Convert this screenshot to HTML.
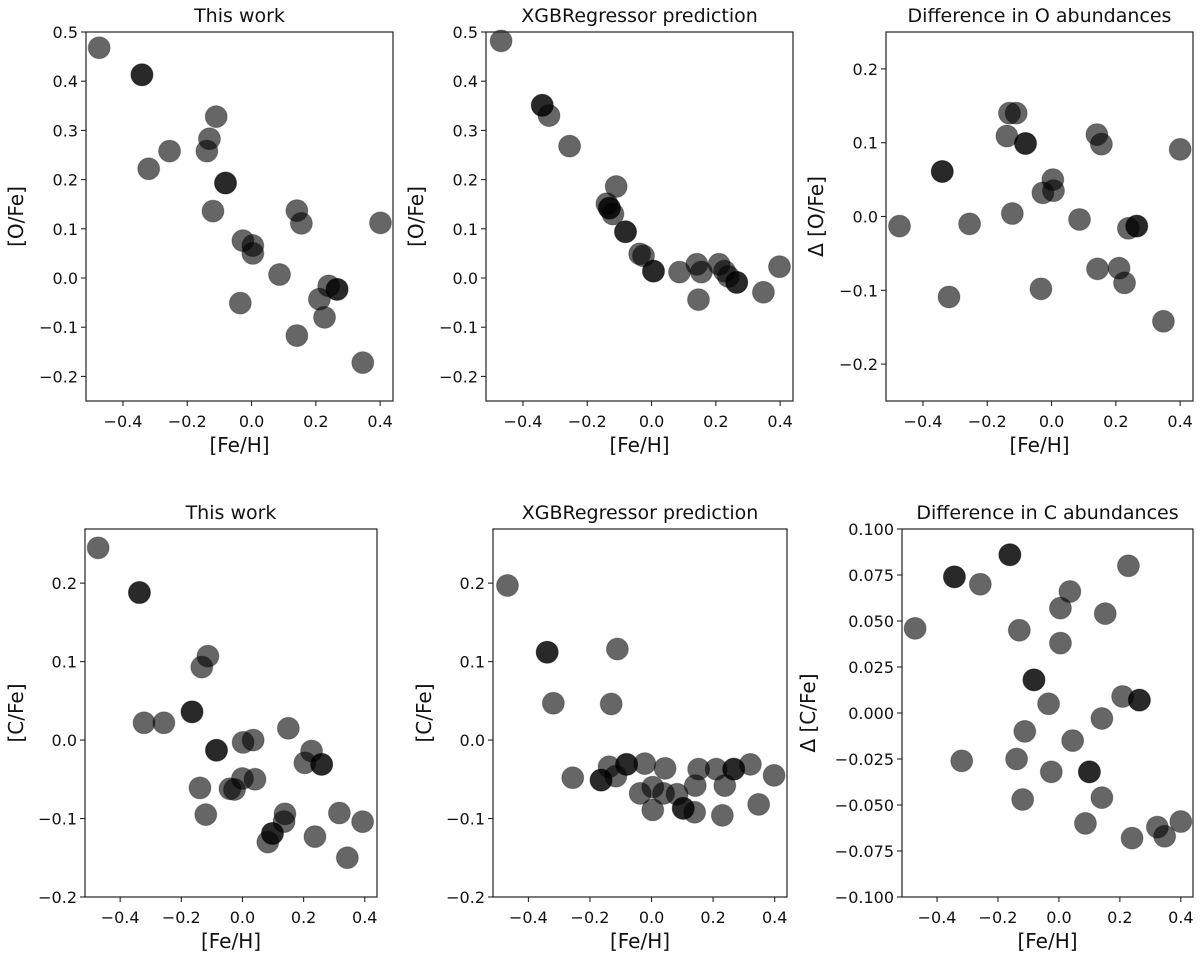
<!DOCTYPE html>
<html><head><meta charset="utf-8"><style>
html,body{margin:0;padding:0;background:#fff;}
svg{display:block;font-family:"DejaVu Sans","Liberation Sans",sans-serif;}
</style></head><body>
<svg id="fig" width="1200" height="959" viewBox="0 0 1200 959" xmlns="http://www.w3.org/2000/svg"></svg>
<script>
// Panel 1: This work, O
const p1x=[-0.474,-0.341,-0.341,-0.110,-0.131,-0.139,-0.255,-0.320,-0.081,-0.081,-0.120,0.141,0.155,0.401,-0.027,0.004,0.004,0.087,-0.035,0.240,0.266,0.266,0.211,0.227,0.141,0.346];
const p1y=[0.468,0.413,0.413,0.328,0.283,0.258,0.258,0.222,0.193,0.193,0.136,0.137,0.111,0.112,0.076,0.066,0.050,0.007,-0.051,-0.016,-0.023,-0.023,-0.043,-0.080,-0.117,-0.172];
// Panel 2: XGB prediction, O
const p2x=[-0.468,-0.340,-0.340,-0.319,-0.255,-0.110,-0.139,-0.131,-0.131,-0.120,-0.081,-0.081,-0.037,-0.025,0.006,0.006,0.087,0.141,0.155,0.146,0.210,0.227,0.239,0.265,0.265,0.348,0.398];
const p2y=[0.482,0.351,0.351,0.330,0.268,0.186,0.151,0.142,0.142,0.130,0.094,0.094,0.049,0.045,0.014,0.014,0.012,0.028,0.012,-0.044,0.028,0.014,0.003,-0.009,-0.009,-0.029,0.023];
// Panel 3: difference O
const p3x=[-0.473,-0.340,-0.340,-0.319,-0.255,-0.139,-0.131,-0.110,-0.081,-0.081,-0.122,0.004,0.006,-0.027,-0.033,0.087,0.141,0.155,0.143,0.210,0.227,0.239,0.265,0.265,0.348,0.400];
const p3y=[-0.013,0.061,0.061,-0.109,-0.010,0.109,0.140,0.140,0.099,0.099,0.004,0.050,0.035,0.032,-0.098,-0.004,0.111,0.098,-0.071,-0.070,-0.090,-0.016,-0.013,-0.013,-0.142,0.091];
// Panel 4: This work, C
const p4x=[-0.472,-0.337,-0.337,-0.113,-0.133,-0.165,-0.165,-0.322,-0.257,-0.085,-0.085,0.002,0.035,0.150,0.226,0.204,0.259,0.259,0.000,0.041,-0.139,-0.041,-0.026,-0.120,0.139,0.136,0.098,0.098,0.083,0.237,0.317,0.393,0.343];
const p4y=[0.245,0.188,0.188,0.107,0.093,0.036,0.036,0.022,0.022,-0.013,-0.013,-0.003,0.000,0.015,-0.014,-0.029,-0.031,-0.031,-0.049,-0.050,-0.061,-0.062,-0.063,-0.095,-0.094,-0.104,-0.119,-0.119,-0.130,-0.123,-0.093,-0.104,-0.150];
// Panel 5: XGB prediction, C
const p5x=[-0.468,-0.339,-0.339,-0.111,-0.319,-0.131,-0.256,-0.164,-0.164,-0.138,-0.116,-0.081,-0.081,-0.022,0.044,-0.037,0.004,0.039,0.083,0.004,0.103,0.103,0.140,0.142,0.153,0.210,0.238,0.267,0.267,0.230,0.321,0.348,0.398];
const p5y=[0.197,0.112,0.112,0.116,0.047,0.046,-0.048,-0.051,-0.051,-0.034,-0.046,-0.031,-0.031,-0.030,-0.036,-0.068,-0.060,-0.068,-0.069,-0.089,-0.087,-0.087,-0.092,-0.058,-0.037,-0.037,-0.058,-0.037,-0.037,-0.096,-0.031,-0.082,-0.045];
// Panel 6: difference C
const p6x=[-0.472,-0.343,-0.343,-0.258,-0.161,-0.161,0.228,0.036,0.005,0.152,-0.130,0.005,-0.082,-0.082,0.209,0.264,0.264,-0.034,0.141,-0.112,0.045,-0.319,-0.139,-0.025,0.100,0.100,-0.119,0.141,0.087,0.240,0.323,0.347,0.400];
const p6y=[0.046,0.074,0.074,0.070,0.086,0.086,0.080,0.066,0.057,0.054,0.045,0.038,0.018,0.018,0.009,0.007,0.007,0.005,-0.003,-0.010,-0.015,-0.026,-0.025,-0.032,-0.032,-0.032,-0.047,-0.046,-0.060,-0.068,-0.062,-0.067,-0.059];

const xTicks=[-0.4,-0.2,0.0,0.2,0.4];
const yTicksO=[-0.2,-0.1,0.0,0.1,0.2,0.3,0.4,0.5];
const yTicksDO=[-0.2,-0.1,0.0,0.1,0.2];
const yTicksC=[-0.2,-0.1,0.0,0.1,0.2];
const yTicksDC=[-0.1,-0.075,-0.05,-0.025,0,0.025,0.05,0.075,0.1];

const NS='http://www.w3.org/2000/svg';
const svg=document.getElementById('fig');
function mk(tag,attrs,parent){const e=document.createElementNS(NS,tag);for(const k in attrs)e.setAttribute(k,attrs[k]);parent.appendChild(e);return e;}
function fmt(v,d){const s=Math.abs(v).toFixed(d);return (v<-1e-9?'\u2212':'')+s;}

const panels=[
 {id:'o-this-work',title:'This work',box:[86,32,393,401],yl:[-0.25,0.5],yt:yTicksO,d:1,lab:'[O/Fe]',labx:16,xs:p1x,ys:p1y},
 {id:'o-xgb-prediction',title:'XGBRegressor prediction',box:[486,32,793,401],yl:[-0.25,0.5],yt:yTicksO,d:1,lab:'[O/Fe]',labx:416,xs:p2x,ys:p2y},
 {id:'o-difference',title:'Difference in O abundances',box:[886,32,1193,401],yl:[-0.25,0.25],yt:yTicksDO,d:1,lab:'\u0394 [O/Fe]',labx:816,xs:p3x,ys:p3y},
 {id:'c-this-work',title:'This work',box:[85,529,377,897],yl:[-0.2,0.269],yt:yTicksC,d:1,lab:'[C/Fe]',labx:16,xs:p4x,ys:p4y},
 {id:'c-xgb-prediction',title:'XGBRegressor prediction',box:[493,529,787,897],yl:[-0.2,0.269],yt:yTicksC,d:1,lab:'[C/Fe]',labx:424,xs:p5x,ys:p5y},
 {id:'c-difference',title:'Difference in C abundances',box:[902,529,1193,897],yl:[-0.1,0.1],yt:yTicksDC,d:3,lab:'\u0394 [C/Fe]',labx:808,xs:p6x,ys:p6y}
];
const xl=[-0.515,0.44];

panels.forEach(p=>{
 const [L,T,R,B]=p.box;
 const g=mk('g',{},svg);
 
 
 const X=v=>L+(v-xl[0])/(xl[1]-xl[0])*(R-L);
 const Y=v=>B-(v-p.yl[0])/(p.yl[1]-p.yl[0])*(B-T);
 const t=mk('text',{x:(L+R)/2,y:T-10,'text-anchor':'middle','font-size':19,fill:'#111'},g);
 t.textContent=p.title;
 
 
 const pg=mk('g',{},g);
 
 
 for(let i=0;i<p.xs.length;i++){
  const c=mk('circle',{cx:X(p.xs[i]),cy:Y(p.ys[i]),r:11,fill:'rgba(0,0,0,0.6)',stroke:'rgba(0,0,0,0.25)','stroke-width':1},pg);
  
  
 }
 const fr=mk('rect',{x:L,y:T,width:R-L,height:B-T,fill:'none',stroke:'#222','stroke-width':1.2},g);
 
 
 xTicks.forEach(v=>{
  const x=X(v);
  mk('line',{x1:x,y1:B,x2:x,y2:B+5,stroke:'#222','stroke-width':1.1},g);
  const tl=mk('text',{x:x,y:B+26,'text-anchor':'middle','font-size':16,fill:'#111'},g);
  tl.textContent=fmt(v,1);
  
  
 });
 p.yt.forEach(v=>{
  const y=Y(v);
  mk('line',{x1:L-5,y1:y,x2:L,y2:y,stroke:'#222','stroke-width':1.1},g);
  const tl=mk('text',{x:L-8,y:y+6,'text-anchor':'end','font-size':16,fill:'#111'},g);
  tl.textContent=fmt(v,p.d);
  
  
 });
 const xlab=mk('text',{x:(L+R)/2,y:B+51,'text-anchor':'middle','font-size':20,fill:'#111'},g);
 xlab.textContent='[Fe/H]';
 
 
 const cy=(T+B)/2;
 const ylab=mk('text',{x:p.labx,y:cy,'text-anchor':'middle','font-size':20,fill:'#111',transform:`rotate(-90 ${p.labx} ${cy})`,'dominant-baseline':'central'},g);
 ylab.textContent=p.lab;
 
 
});
</script>
</body></html>
